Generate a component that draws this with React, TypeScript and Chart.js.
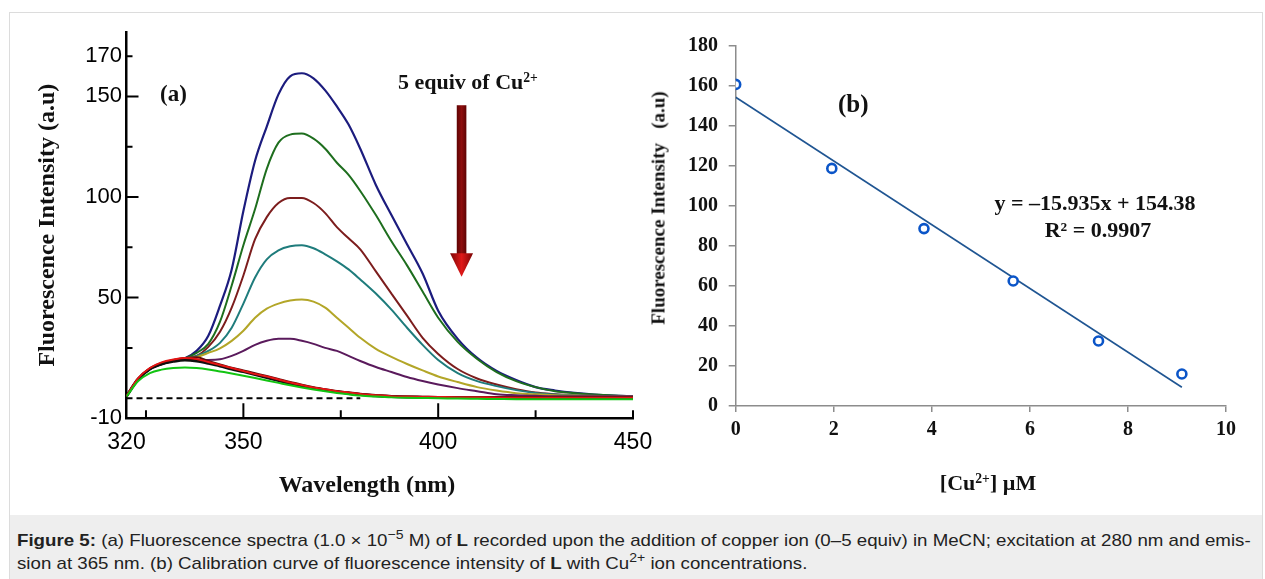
import React, { useEffect, useRef } from 'react';
import { Chart, registerables } from 'chart.js';
Chart.register(...registerables);

// ---------- Panel (a): fluorescence spectra ----------
const wavelengths = [320, 323, 326, 329, 332, 335, 338, 341, 344, 347, 350, 353, 356, 359, 362, 365, 368, 371, 374, 377, 380, 384, 388, 392, 396, 400, 405, 410, 415, 420, 425, 430, 435, 440, 445, 450];
const equiv0 = [1, 9.5, 14.5, 17, 18.5, 19.8, 23.5, 31, 46, 64, 93, 118, 135, 151, 160, 161.5, 159, 153, 145, 136, 124, 106, 91, 76.5, 62, 43.5, 29.5, 20, 13.5, 9, 5.5, 3.8, 2.6, 1.8, 1.3, 1];
const equiv1 = [1, 9.5, 14.5, 17, 18.5, 19.8, 22.5, 27, 38, 56, 76, 94, 114, 127, 131, 131.5, 129, 124, 117, 111, 103, 91, 78, 66, 53, 40, 28, 19.5, 13, 8.5, 5.5, 3.5, 2.5, 1.8, 1.3, 1];
const equiv2 = [1, 9.5, 14.5, 17, 18.5, 19.8, 21, 25.5, 33, 45, 61, 79, 90, 97, 99.5, 99.5, 97, 92, 85, 79.5, 74, 63, 52, 41, 30, 22, 14.5, 9.8, 6.8, 4.5, 2.8, 2, 1.5, 1.2, 1, 1];
const equiv3 = [1, 9.5, 14.5, 17, 18.5, 19.8, 21, 23.5, 27.5, 35, 47, 60, 69, 73.5, 75.5, 76, 74.5, 71.5, 68, 64, 59, 52, 44, 35, 26.5, 19, 12.5, 8.5, 6, 4, 2.6, 1.8, 1.4, 1.2, 1, 1];
const equiv4 = [1, 9.5, 14.5, 17, 18.5, 19.8, 20.5, 22.5, 24.8, 28.5, 33.5, 40, 44.5, 47, 48.5, 49, 48, 45, 40, 35, 30, 24.5, 20.5, 17, 13.8, 10.8, 8, 5.5, 3.8, 2.5, 1.9, 1.5, 1.3, 1.1, 1, 1];
const equiv5 = [1, 9.5, 14.5, 17, 18.5, 19.5, 19, 19, 19.3, 21, 23.5, 26.5, 28.5, 29.5, 29.5, 28.5, 27, 25, 23.5, 21, 18.5, 15.5, 13, 10.5, 8.5, 6.8, 5, 3.5, 2, 1.5, 1.2, 1, 1, 1, 1, 1];
const lowBlack = [1, 9.5, 14.5, 17, 18.3, 19, 18.5, 17.3, 16, 14.5, 13.2, 11.8, 10.3, 8.8, 7.3, 6, 5, 4, 3.2, 2.5, 1.8, 1.2, 0.8, 0.6, 0.5, 0.4, 0.4, 0.3, 0.3, 0.3, 0.3, 0.3, 0.3, 0.3, 0.3, 0.3];
const lowRed = [1, 10, 15, 17.8, 19.2, 20, 19.5, 18, 16.5, 15, 13.5, 12, 10.8, 9.3, 7.8, 6.5, 5.3, 4.4, 3.5, 2.8, 2.1, 1.5, 1, 0.8, 0.7, 0.6, 0.5, 0.5, 0.4, 0.4, 0.4, 0.4, 0.4, 0.4, 0.4, 0.4];
const lowGreen = [0.8, 8.5, 12.5, 14.2, 15, 15.3, 15, 14.3, 13.3, 12.3, 11.2, 10, 8.8, 7.6, 6.4, 5.3, 4.3, 3.4, 2.6, 1.9, 1.3, 0.8, 0.4, 0.2, 0.1, 0, -0.2, -0.3, -0.4, -0.5, -0.5, -0.5, -0.5, -0.5, -0.5, -0.5];
const lowMaroon = [1, 9.5, 14.8, 17.5, 19, 20, 20.3, 18.5, 16.8, 15.2, 13.8, 12.4, 11, 9.5, 8, 6.7, 5.5, 4.5, 3.6, 2.9, 2.2, 1.6, 1.1, 0.8, 0.6, 0.5, 0.4, 0.4, 0.3, 0.3, 0.3, 0.3, 0.3, 0.3, 0.3, 0.3];
const baselineX = [320, 380];
const baselineY = [0, 0];

const xTicksA = [320, 350, 400, 450];
const xMajorMarksA = [350, 400];
const xMinorMarksA = [325, 375, 425, 450];
const yTicksA = [-10, 50, 100, 150, 170];
const yMajorMarksA = [50, 100, 150];
const yMinorMarksA = [25, 75, 125, 170];

// ---------- Panel (b): calibration ----------
const cuConc = [0, 1.96, 3.84, 5.66, 7.4, 9.1];
const cuIntensity = [160.8, 118.8, 88.7, 62.5, 32.5, 16];
const fitX = [0, 9.1];
const fitY = [154.38, 9.37];

const SERIF = "'Liberation Serif', 'Times New Roman', Times, serif";
const SANS = "'Liberation Sans', Arial, Helvetica, sans-serif";

const pts = (xs: number[], ys: number[]) => xs.map((x, i) => ({ x, y: ys[i] }));

const inwardTicks = {
  id: 'inwardTicks',
  afterDraw(chart: any) {
    const { ctx, chartArea, scales } = chart;
    const { left, bottom } = chartArea;
    ctx.save();
    ctx.strokeStyle = '#000';
    ctx.lineWidth = 2;
    ctx.beginPath();
    yMajorMarksA.forEach((v) => { const p = scales.y.getPixelForValue(v); ctx.moveTo(left, p); ctx.lineTo(left + 12, p); });
    yMinorMarksA.forEach((v) => { const p = scales.y.getPixelForValue(v); ctx.moveTo(left, p); ctx.lineTo(left + 6, p); });
    xMajorMarksA.forEach((v) => { const p = scales.x.getPixelForValue(v); ctx.moveTo(p, bottom); ctx.lineTo(p, bottom - 15); });
    xMinorMarksA.forEach((v) => { const p = scales.x.getPixelForValue(v); ctx.moveTo(p, bottom); ctx.lineTo(p, bottom - 8); });
    ctx.stroke();
    ctx.restore();
  },
};

const arrowAt = { x: 406, from: 145.6, neck: 72, to: 60.4 };
const arrowPlugin = {
  id: 'arrowPlugin',
  afterDraw(chart: any) {
    const { ctx, scales } = chart;
    const ax = scales.x.getPixelForValue(arrowAt.x);
    const top = scales.y.getPixelForValue(arrowAt.from);
    const neck = scales.y.getPixelForValue(arrowAt.neck);
    const tip = scales.y.getPixelForValue(arrowAt.to);
    ctx.save();
    const g = ctx.createLinearGradient(ax - 5, 0, ax + 5, 0);
    g.addColorStop(0, '#5c0303');
    g.addColorStop(0.5, '#8e0d0d');
    g.addColorStop(1, '#5c0303');
    ctx.fillStyle = g;
    ctx.fillRect(ax - 4.8, top, 9.6, neck - top + 1);
    const hg = ctx.createLinearGradient(ax - 11.5, 0, ax + 11.5, 0);
    hg.addColorStop(0, '#7a0505');
    hg.addColorStop(0.5, '#e01818');
    hg.addColorStop(1, '#7a0505');
    ctx.fillStyle = hg;
    ctx.beginPath();
    ctx.moveTo(ax - 11.5, neck);
    ctx.lineTo(ax + 11.5, neck);
    ctx.lineTo(ax, tip);
    ctx.closePath();
    ctx.fill();
    ctx.restore();
  },
};

const line = (label: string, ys: number[], color: string, width = 2) => ({
  label,
  data: pts(wavelengths, ys),
  borderColor: color,
  borderWidth: width,
  pointRadius: 0,
  fill: false,
  cubicInterpolationMode: 'monotone' as const,
});

const T = ({ left, cx, cy, size, children, sans, bold = true, rotate }: any) => (
  <div
    style={{
      position: 'absolute',
      left: cx !== undefined ? cx : left,
      top: cy,
      transform: `translate(${cx !== undefined ? '-50%' : '0'}, -50%)${rotate ? ` rotate(${rotate}deg)` : ''}`,
      fontFamily: sans ? SANS : SERIF,
      fontWeight: bold ? 'bold' : 'normal',
      fontSize: size,
      lineHeight: 1,
      whiteSpace: 'nowrap',
      color: '#111',
    }}
  >
    {children}
  </div>
);

export default function App() {
  const refA = useRef<HTMLCanvasElement>(null);
  const refB = useRef<HTMLCanvasElement>(null);

  useEffect(() => {
    const chartA = new Chart(refA.current!, {
      type: 'line',
      data: {
        datasets: [
          { label: 'baseline', data: pts(baselineX, baselineY), borderColor: '#000', borderWidth: 2, borderDash: [6, 4], pointRadius: 0 },
          line('low green', lowGreen, '#12c412', 2),
          line('low red', lowRed, '#e41414', 2),
          line('low black', lowBlack, '#101010', 3),
          line('low maroon', lowMaroon, '#5e0c0c', 2),
          line('5', equiv5, '#5a1a5c', 2),
          line('4', equiv4, '#b3a628', 2),
          line('3', equiv3, '#1f7c7c', 2),
          line('2', equiv2, '#7c1d1d', 2),
          line('1', equiv1, '#1e6e1e', 2),
          line('0', equiv0, '#1c1c7e', 2.2),
        ] as any,
      },
      options: {
        animation: false,
        responsive: false,
        layout: { padding: { left: 0, right: 47, top: 32, bottom: 0 } },
        plugins: { legend: { display: false }, tooltip: { enabled: false } },
        scales: {
          x: {
            type: 'linear',
            min: 320,
            max: 450,
            afterBuildTicks: (s: any) => { s.ticks = xTicksA.map((v) => ({ value: v })); },
            afterFit: (s: any) => { s.height = 96.7; },
            grid: { display: false, drawTicks: false },
            border: { display: true, color: '#000', width: 2.5 },
            ticks: { padding: 11, color: '#000', font: { family: SANS, size: 23 }, maxRotation: 0, autoSkip: false },
          },
          y: {
            type: 'linear',
            min: -10,
            max: 182,
            afterBuildTicks: (s: any) => { s.ticks = yTicksA.map((v) => ({ value: v })); },
            afterFit: (s: any) => { s.width = 126.5; },
            grid: { display: false, drawTicks: false },
            border: { display: true, color: '#000', width: 2.5 },
            ticks: { padding: 4.5, color: '#000', font: { family: SANS, size: 22 }, autoSkip: false },
            title: {
              display: true,
              text: 'Fluorescence Intensity (a.u)',
              color: '#111',
              font: { family: SERIF, size: 24, weight: 'bold' },
              padding: { top: 33.6, bottom: 0 },
            },
          },
        },
      } as any,
      plugins: [inwardTicks, arrowPlugin],
    });

    const chartB = new Chart(refB.current!, {
      type: 'scatter',
      data: {
        datasets: [
          {
            label: 'measured',
            data: pts(cuConc, cuIntensity),
            showLine: false,
            pointRadius: 4.5,
            pointBorderWidth: 2.6,
            pointBorderColor: '#0b55c8',
            pointBackgroundColor: '#ffffff',
          },
          {
            label: 'linear fit',
            data: pts(fitX, fitY),
            showLine: true,
            pointRadius: 0,
            borderColor: '#1f5592',
            borderWidth: 1.6,
          },
        ] as any,
      },
      options: {
        animation: false,
        responsive: false,
        layout: { padding: { left: 0, right: 39, top: 46, bottom: 0 } },
        plugins: { legend: { display: false }, tooltip: { enabled: false } },
        scales: {
          x: {
            type: 'linear',
            min: 0,
            max: 10,
            afterFit: (s: any) => { s.height = 109; },
            grid: { display: true, drawOnChartArea: false, drawTicks: true, tickLength: 6, color: '#8c8c8c', lineWidth: 1.5 },
            border: { display: true, color: '#8c8c8c', width: 1.5 },
            ticks: { stepSize: 2, padding: 6, color: '#111', font: { family: SERIF, size: 20, weight: 'bold' }, maxRotation: 0 },
          },
          y: {
            type: 'linear',
            min: 0,
            max: 180,
            afterFit: (s: any) => { s.width = 85.7; },
            grid: { display: true, drawOnChartArea: false, drawTicks: true, tickLength: 7, color: '#8c8c8c', lineWidth: 1.5 },
            border: { display: true, color: '#8c8c8c', width: 1.5 },
            ticks: { stepSize: 20, padding: 10.7, color: '#111', font: { family: SERIF, size: 20, weight: 'bold' } },
          },
        },
      } as any,
    });

    return () => {
      chartA.destroy();
      chartB.destroy();
    };
  }, []);

  return (
    <div style={{ position: 'absolute', left: 0, top: 0, width: 1265, height: 579, background: '#fff', overflow: 'hidden' }}>
      <div style={{ position: 'absolute', left: 9, top: 12, width: 1254, height: 620, border: '1px solid #dcdcdc', boxSizing: 'border-box' }} />
      <div style={{ position: 'absolute', left: 10, top: 515, width: 1252, height: 70, background: '#eeeeee' }} />
      <canvas ref={refA} width={680} height={515} style={{ position: 'absolute', left: 0, top: 0 }} />
      <canvas ref={refB} width={615} height={515} style={{ position: 'absolute', left: 650, top: 0 }} />

      <T left={160} cy={93} size={23}>(a)</T>
      <T left={398} cy={82} size={22}>5 equiv of Cu<sup style={{ fontSize: '0.62em', verticalAlign: '0.55em' }}>2+</sup></T>
      <T cx={367} cy={484} size={24}>Wavelength (nm)</T>

      <T left={838} cy={103} size={25}>(b)</T>
      <T cx={1095} cy={203} size={22}>y = –15.935x + 154.38</T>
      <T cx={1098} cy={230} size={22}>R² = 0.9907</T>
      <T cx={988} cy={483} size={22}>[Cu<sup style={{ fontSize: '0.62em', verticalAlign: '0.55em' }}>2+</sup>] µM</T>
      <T cx={657.5} cy={207.5} size={19} rotate={-90}>Fluorescence Intensity&nbsp;&nbsp;&nbsp;(a.u)</T>

      <div style={{ position: 'absolute', left: 17, top: 529, fontFamily: SANS, fontSize: 17, lineHeight: '23px', color: '#222', whiteSpace: 'nowrap', transform: 'scaleX(1.1)', transformOrigin: '0 0' }}>
        <b>Figure 5:</b> (a) Fluorescence spectra (1.0 × 10<sup style={{ fontSize: '0.75em', lineHeight: 0 }}>−5</sup> M) of <b>L</b> recorded upon the addition of copper ion (0–5 equiv) in MeCN; excitation at 280 nm and emis-
        <br />
        sion at 365 nm. (b) Calibration curve of fluorescence intensity of <b>L</b> with Cu<sup style={{ fontSize: '0.75em', lineHeight: 0 }}>2+</sup> ion concentrations.
      </div>
    </div>
  );
}
